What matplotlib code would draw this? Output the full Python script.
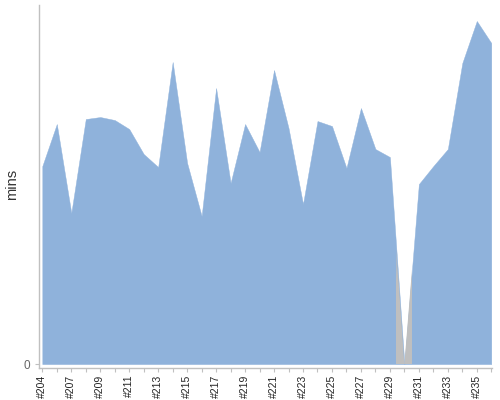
import matplotlib
matplotlib.use("Agg")
import matplotlib.pyplot as plt
import numpy as np

categories = ["#204", "#206", "#207", "#208", "#209", "#210", "#211", "#212",
              "#213", "#214", "#215", "#216", "#217", "#218", "#219", "#220",
              "#221", "#222", "#223", "#224", "#225", "#226", "#227", "#228",
              "#229", "#230", "#231", "#232", "#233", "#234", "#235", "#236"]
mins = [19.8, 24.0, 15.1, 24.5, 24.7, 24.4, 23.5, 21.0,
        19.7, 30.2, 20.1, 14.8, 27.6, 18.1, 24.0, 21.2,
        29.4, 23.6, 16.0, 24.3, 23.8, 19.6, 25.6, 21.5,
        20.7, 0.0, 18.0, 19.8, 21.5, 30.1, 34.3, 32.1]
failed_build = "#230"
failed_level = 9.9

plt.rcParams['font.family'] = ['Liberation Sans', 'DejaVu Sans']

fig = plt.figure(figsize=(5, 4), dpi=100)
ax = fig.add_axes([0.0774, 0.081, 0.9066, 0.9065])

x = np.arange(len(categories))
y = np.array(mins)
blue = "#8fb2db"
poly = ax.fill_between(x, 0, y, facecolor=blue, edgecolor=blue,
                       linewidth=0.3, zorder=2)

# grey highlight of the failed build, fading upwards, clipped to the area
fi = categories.index(failed_build)
top = failed_level * 1.25
n = 100
levels = np.linspace(top, 0, n)
rgba = np.zeros((n, 1, 4))
rgba[..., :3] = 0.75
rgba[:, 0, 3] = np.clip((top - levels) / (top - failed_level * 0.85), 0, 1)
img = ax.imshow(rgba, extent=[fi - 0.59, fi + 0.48, 0, top], aspect='auto',
                interpolation='bilinear', zorder=3, origin='upper')
img.set_clip_path(poly.get_paths()[0], transform=ax.transData)

ax.set_xlim(-0.25, len(categories) - 1 + 0.05)
ax.set_ylim(-0.35, 35.9)

for s in ['top', 'right']:
    ax.spines[s].set_visible(False)
for s in ['left', 'bottom']:
    ax.spines[s].set_color('#c0c0c0')
    ax.spines[s].set_linewidth(1.0)

ax.set_xticks(x)
ax.set_xticklabels([c if i % 2 == 0 else "" for i, c in enumerate(categories)],
                   rotation=90, fontsize=7.5, color='#222222')
ax.tick_params(axis='x', length=3, width=0.8, color='#c0c0c0', pad=2)
ax.set_yticks([0])
ax.set_yticklabels(["0"], fontsize=8.5, color='#666666')
ax.tick_params(axis='y', length=3, width=0.8, color='#c0c0c0', pad=3)

fig.text(0.024, 0.54, "mins", rotation=90, fontsize=10.5, color='#333333',
         ha='center', va='center')

fig.savefig("out.png", dpi=100)
